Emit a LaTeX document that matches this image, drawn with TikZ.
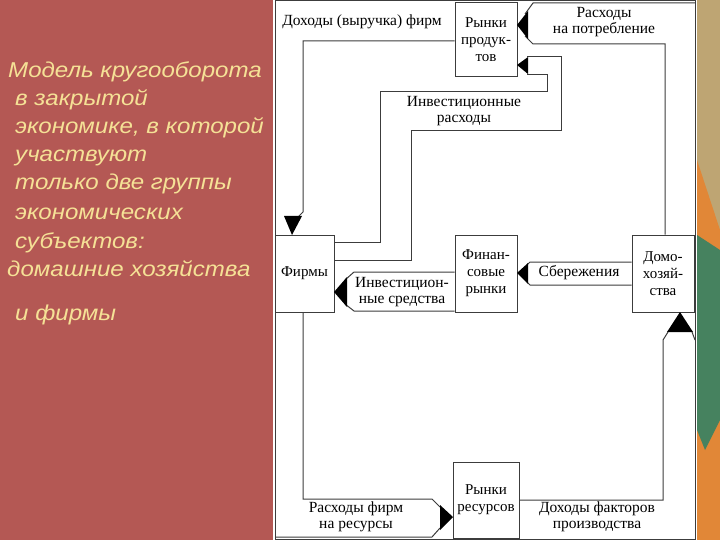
\documentclass[tikz,border=0pt]{standalone}
\usepackage{fontspec}
\setmainfont{Liberation Serif}
\newfontfamily\lsans{Liberation Sans}
\definecolor{panel}{RGB}{180,88,84}
\definecolor{ltxt}{RGB}{245,225,150}
\definecolor{tan}{RGB}{190,165,115}
\definecolor{orng}{RGB}{225,135,55}
\definecolor{grn}{RGB}{70,130,95}
\definecolor{ln}{RGB}{60,60,60}
\begin{document}
\begin{tikzpicture}[x=1pt,y=-1pt,
  box/.style={draw=ln,line width=1pt,fill=white,inner sep=0pt,align=center,font=\fontsize{15}{17}\selectfont},
  wire/.style={draw=ln,line width=1pt},
  lbl/.style={align=center,font=\fontsize{15.5}{16}\selectfont,inner sep=0pt},
  tip/.style={fill=black,draw=none},
  ltx/.style={anchor=base west,text=ltxt,xscale=1.12,font=\lsans\itshape\fontsize{21.5}{24}\selectfont,inner sep=0pt}]
\useasboundingbox (0,0) rectangle (720,540);
\fill[panel] (0,0) rectangle (273,540);
\fill[tan] (697,0) rectangle (720,540);
\fill[orng] (697,160) -- (720,230) -- (720,540) -- (697,540) -- cycle;
\fill[grn] (697,235) -- (720,250) -- (720,420) -- (705,450) -- (697,430) -- cycle;
\fill[white] (273,0) rectangle (697,540);
\draw[wire] (275,1) rectangle (695,539);
% left text
\node[ltx] (t1) at (8,78) {Модель кругооборота};
\node[ltx] (t2) at (15,106) {в закрытой};
\node[ltx] (t3) at (15,134) {экономике, в которой};
\node[ltx] (t4) at (15,162) {участвуют};
\node[ltx] (t5) at (15,190) {только две группы};
\node[ltx] (t6) at (15,219) {экономических};
\node[ltx] (t7) at (15,248) {субъектов:};
\node[ltx] (t8) at (7,276) {домашние хозяйства};
\node[ltx] (t9) at (15,320) {и фирмы};
% boxes
\node[box,minimum width=62pt,minimum height=74pt] (rp) at (486,40) {Рынки\\продук-\\тов};
\node[box,minimum width=59pt,minimum height=77pt] (f) at (304.5,273.5) {Фирмы};
\node[box,minimum width=62pt,minimum height=77pt] (fr) at (486,273.5) {Финан-\\совые\\рынки};
\node[box,minimum width=62pt,minimum height=77pt] (d) at (663,273.5) {Домо-\\хозяй-\\ства};
\node[box,minimum width=66pt,minimum height=76pt] (rr) at (486,500) {Рынки\\ресурсов};
% Доходы (выручка) фирм
\draw[wire] (rp.west |- 0,41) -- (303,41) -- (303,212) -- (298,217);
\fill[tip] (284,216) -- (302,216) -- (292,235) -- cycle;
\node[lbl] (l1) at (362,22) {Доходы (выручка) фирм};
% Расходы на потребление
\draw[wire] (695,3) -- (533,3) -- (525,14);
\draw[wire] (525,36) -- (533,44) -- (665,44) -- (d.north -| 665,0);
\fill[tip] (517,25) -- (528,11) -- (528,39) -- cycle;
\node[lbl] (l2) at (604,22) {Расходы\\на потребление};
% Инвестиционные расходы
\draw[wire] (f.east |- 0,242) -- (380,242) -- (380,92) -- (547,92) -- (547,75) -- (527,75);
\draw[wire] (f.east |- 0,260) -- (411,260) -- (411,131) -- (561,131) -- (561,57) -- (527,57);
\fill[tip] (517,65) -- (528,57) -- (528,74) -- cycle;
\node[lbl] (l3) at (464,111) {Инвестиционные\\расходы};
% Сбережения
\draw[wire] (d.west |- 0,262) -- (530,262) -- (527,265);
\draw[wire] (d.west |- 0,285) -- (530,285) -- (527,282);
\fill[tip] (517,273) -- (528,263) -- (528,284) -- cycle;
\node[lbl] (l4) at (579,273) {Сбережения};
% Инвестиционные средства
\draw[wire] (fr.west |- 0,272) -- (354,272) -- (345,280);
\draw[wire] (fr.west |- 0,311) -- (354,311) -- (345,304);
\fill[tip] (334,292) -- (347,277) -- (347,307) -- cycle;
\node[lbl] (l5) at (402,292) {Инвестицион-\\ные средства};
% Расходы фирм на ресурсы
\draw[wire] (f.south -| 303,0) -- (303,499) -- (432,499) -- (440,507);
\draw[wire] (275,537) -- (432,537) -- (440,528);
\fill[tip] (453,517) -- (440,505) -- (440,530) -- cycle;
\node[lbl] (l6) at (356,517) {Расходы фирм\\на ресурсы};
% Доходы факторов производства
\draw[wire] (rr.east |- 0,500) -- (663,500) -- (663,340) -- (668,332);
\draw[wire] (692,332) -- (695,340);
\fill[tip] (680,312) -- (667,332) -- (693,332) -- cycle;
\node[lbl] (l7) at (597,517) {Доходы факторов\\производства};
\end{tikzpicture}
\end{document}
